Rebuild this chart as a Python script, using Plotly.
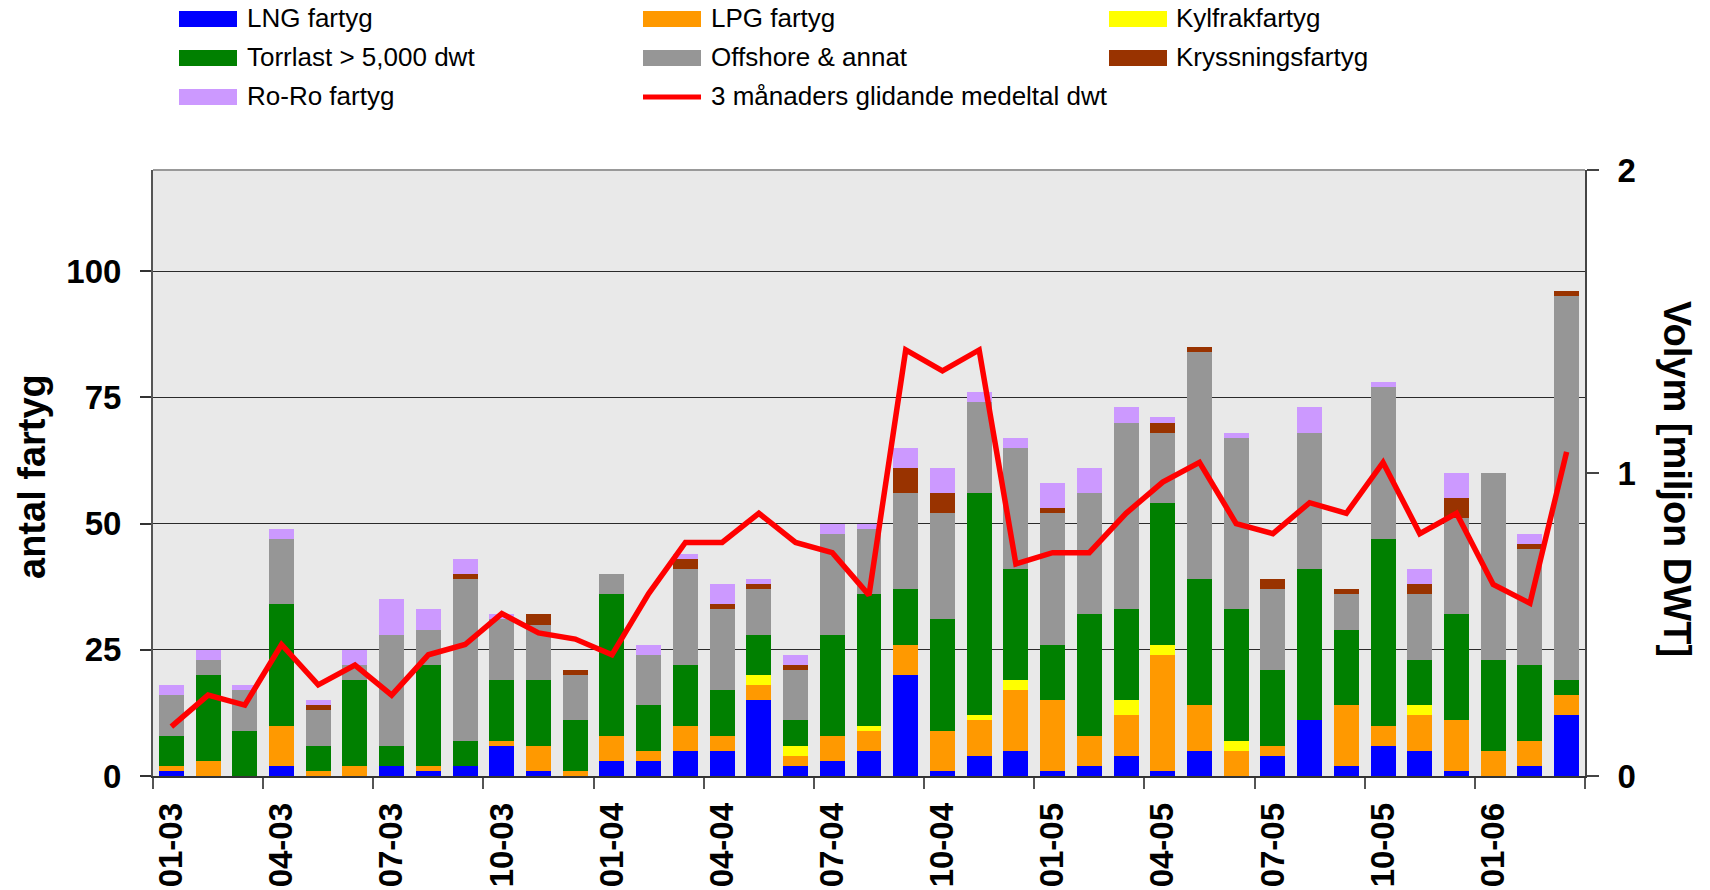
import plotly.graph_objects as go

months = ["01-03", "02-03", "03-03", "04-03", "05-03", "06-03", "07-03", "08-03", "09-03", "10-03", "11-03", "12-03",
          "01-04", "02-04", "03-04", "04-04", "05-04", "06-04", "07-04", "08-04", "09-04", "10-04", "11-04", "12-04",
          "01-05", "02-05", "03-05", "04-05", "05-05", "06-05", "07-05", "08-05", "09-05", "10-05", "11-05", "12-05",
          "01-06", "02-06", "03-06"]

lng = [1, 0, 0, 2, 0, 0, 2, 1, 2, 6, 1, 0,
       3, 3, 5, 5, 15, 2, 3, 5, 20, 1, 4, 5,
       1, 2, 4, 1, 5, 0, 4, 11, 2, 6, 5, 1,
       0, 2, 12]
lpg = [1, 3, 0, 8, 1, 2, 0, 1, 0, 1, 5, 1,
       5, 2, 5, 3, 3, 2, 5, 4, 6, 8, 7, 12,
       14, 6, 8, 23, 9, 5, 2, 0, 12, 4, 7, 10,
       5, 5, 4]
kylfrak = [0, 0, 0, 0, 0, 0, 0, 0, 0, 0, 0, 0,
           0, 0, 0, 0, 2, 2, 0, 1, 0, 0, 1, 2,
           0, 0, 3, 2, 0, 2, 0, 0, 0, 0, 2, 0,
           0, 0, 0]
torrlast = [6, 17, 9, 24, 5, 17, 4, 20, 5, 12, 13, 10,
            28, 9, 12, 9, 8, 5, 20, 26, 11, 22, 44, 22,
            11, 24, 18, 28, 25, 26, 15, 30, 15, 37, 9, 21,
            18, 15, 3]
offshore = [8, 3, 8, 13, 7, 3, 22, 7, 32, 12, 11, 9,
            4, 10, 19, 16, 9, 10, 20, 13, 19, 21, 18, 24,
            26, 24, 37, 14, 45, 34, 16, 27, 7, 30, 13, 19,
            37, 23, 76]
kryss = [0, 0, 0, 0, 1, 0, 0, 0, 1, 0, 2, 1,
         0, 0, 2, 1, 1, 1, 0, 0, 5, 4, 0, 0,
         1, 0, 0, 2, 1, 0, 2, 0, 1, 0, 2, 4,
         0, 1, 1]
roro = [2, 2, 1, 2, 1, 3, 7, 4, 3, 1, 0, 0,
        0, 2, 1, 4, 1, 2, 2, 1, 4, 5, 2, 2,
        5, 5, 3, 1, 0, 1, 0, 5, 0, 1, 3, 5,
        0, 2, 0]
dwt_3m = [0.163, 0.267, 0.234, 0.434, 0.301, 0.366, 0.267, 0.40, 0.434, 0.536, 0.472, 0.452,
          0.40, 0.602, 0.771, 0.771, 0.867, 0.771, 0.737, 0.597, 1.406, 1.337, 1.406, 0.70,
          0.737, 0.737, 0.867, 0.970, 1.035, 0.833, 0.80, 0.902, 0.867, 1.035, 0.80, 0.867,
          0.632, 0.57, 1.07]

series = [
    ("LNG fartyg", lng, "#0000FF"),
    ("LPG fartyg", lpg, "#FF9900"),
    ("Kylfrakfartyg", kylfrak, "#FFFF00"),
    ("Torrlast > 5,000 dwt", torrlast, "#008000"),
    ("Offshore & annat", offshore, "#969696"),
    ("Kryssningsfartyg", kryss, "#993300"),
    ("Ro-Ro fartyg", roro, "#CC99FF"),
]
line_name = "3 månaders glidande medeltal dwt"
line_color = "#FF0000"

W, H = 1710, 890
L, R, T, B = 153, 125, 170, 114
PW, PH = W - L - R, H - T - B


def px2x(px):
    return (px - L) / PW


def px2y(py):
    return (H - B - py) / PH


FONT = "Liberation Sans, Arial, sans-serif"

fig = go.Figure()
for name, vals, col in series:
    fig.add_trace(go.Bar(x=months, y=vals, name=name, marker=dict(color=col, line=dict(width=0)),
                         showlegend=False))
fig.add_trace(go.Scatter(x=months, y=dwt_3m, name=line_name, mode="lines",
                         line=dict(color=line_color, width=5.5), yaxis="y2", showlegend=False))

shapes = []
annotations = []
# manual legend (3 columns)
legend_items = [(s[0], s[2], "bar") for s in series] + [(line_name, line_color, "line")]
col_x = [(179, 237, 245), (643, 701, 709), (1109, 1167, 1174)]
row_y = [19, 58, 97]
for i, (name, col, kind) in enumerate(legend_items):
    r, c = divmod(i, 3)
    x0, x1, tx = col_x[c]
    yc = row_y[r]
    if kind == "bar":
        shapes.append(dict(type="rect", xref="paper", yref="paper",
                           x0=px2x(x0), x1=px2x(x1), y0=px2y(yc + 8), y1=px2y(yc - 8),
                           fillcolor=col, line=dict(width=0)))
    else:
        shapes.append(dict(type="line", xref="paper", yref="paper",
                           x0=px2x(x0), x1=px2x(x1), y0=px2y(yc), y1=px2y(yc),
                           line=dict(color=col, width=5)))
    annotations.append(dict(text=name, xref="paper", yref="paper", x=px2x(tx), y=px2y(yc - 1),
                            xanchor="left", yanchor="middle", showarrow=False,
                            font=dict(family=FONT, size=26, color="black")))

# top border of plot area
shapes.append(dict(type="line", xref="paper", yref="paper", x0=0, x1=1, y0=1, y1=1,
                   line=dict(color="#999999", width=2), layer="above"))

# axis titles
annotations.append(dict(text="antal fartyg", xref="paper", yref="paper", x=px2x(32), y=px2y(477),
                        xanchor="center", yanchor="middle", textangle=-90, showarrow=False,
                        font=dict(family=FONT, size=38, color="black", weight="bold")))
annotations.append(dict(text="Volym [miljon DWT]", xref="paper", yref="paper", x=px2x(1677), y=px2y(479),
                        xanchor="center", yanchor="middle", textangle=90, showarrow=False,
                        font=dict(family=FONT, size=38, color="black", weight="bold")))

tickfont = dict(family=FONT, size=33, color="black", weight="bold")

fig.update_layout(
    width=W, height=H,
    margin=dict(l=L, r=R, t=T, b=B, pad=0, autoexpand=False),
    paper_bgcolor="white",
    plot_bgcolor="#E9E9E9",
    barmode="stack",
    bargap=0.32,
    showlegend=False,
    shapes=shapes,
    annotations=annotations,
    xaxis=dict(type="category", range=[-0.5, 38.5], tickmode="linear", tick0=0, dtick=3,
               tickson="boundaries", tickangle=-90, ticks="outside", ticklen=11, tickwidth=1.5,
               tickcolor="#555555", showline=True, linecolor="#333333", linewidth=1.5,
               showgrid=False, tickfont=tickfont, ticklabelstandoff=12, zeroline=False,
               automargin=False),
    yaxis=dict(range=[0, 120], tickmode="array", tickvals=[0, 25, 50, 75, 100],
               ticks="outside", ticklen=11, tickwidth=1.5, tickcolor="#333333",
               showline=True, linecolor="#555555", linewidth=2,
               showgrid=True, gridcolor="#2a2a2a", gridwidth=1.3, zeroline=False,
               tickfont=tickfont, ticklabelstandoff=12, automargin=False),
    yaxis2=dict(overlaying="y", side="right", range=[0, 2], tickmode="array", tickvals=[0, 1, 2],
                ticks="outside", ticklen=12, tickwidth=1.5, tickcolor="#444444",
                showline=True, linecolor="#444444", linewidth=2, showgrid=False, zeroline=False,
                tickfont=tickfont, ticklabelstandoff=12, automargin=False),
    yaxis3=dict(overlaying="y", side="right", range=[0, 2], tickmode="array", tickvals=[0, 1, 2],
                ticks="inside", ticklen=10, tickwidth=1.5, tickcolor="#444444",
                showline=False, showgrid=False, zeroline=False, showticklabels=False,
                automargin=False),
)

fig.write_html("out.html", config={"displayModeBar": False},
               post_script="document.body.style.margin='0';document.body.style.overflow='hidden';")
